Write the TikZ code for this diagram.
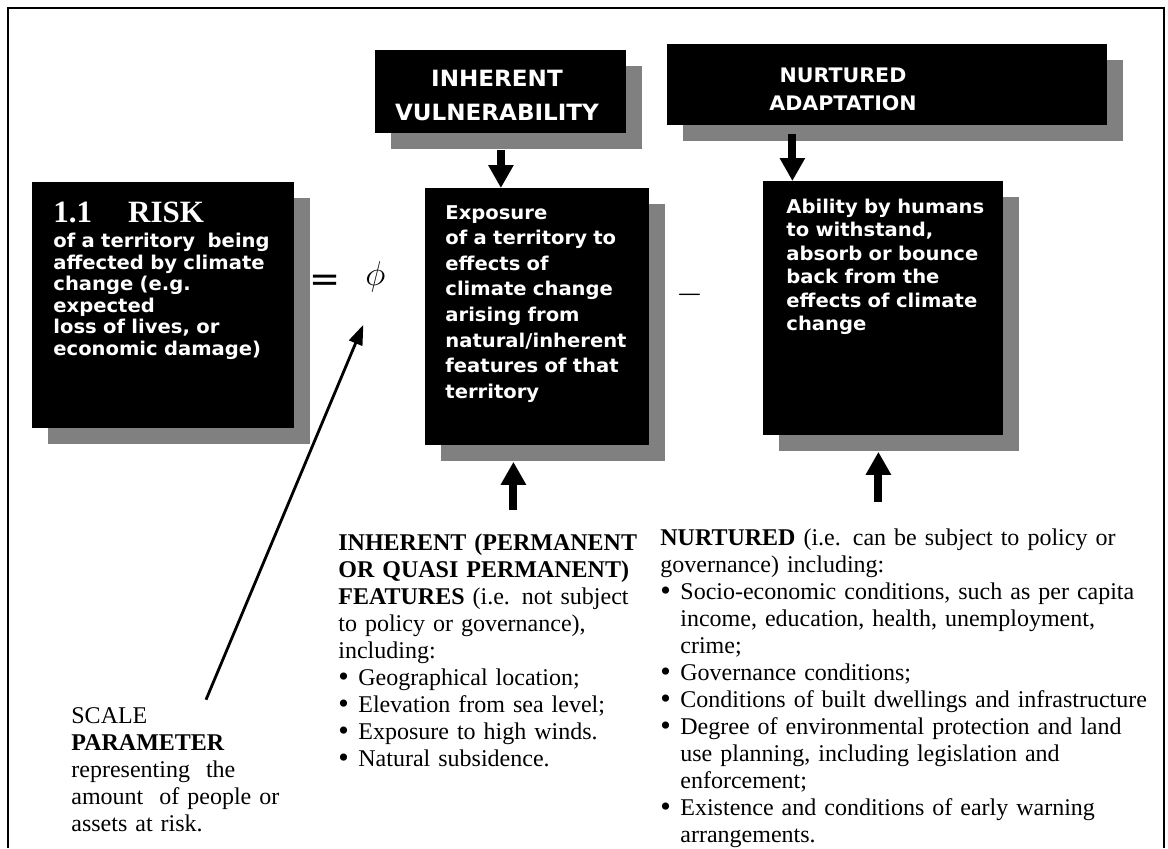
\documentclass[tikz,border=0pt]{standalone}
\usepackage{fontspec}
\setmainfont{Liberation Serif}
\newfontfamily\boxfont[FakeStretch=1.03]{DejaVu Sans}
\usepackage{tikz}
\usetikzlibrary{arrows.meta,positioning,calc,shadows}

\newcommand{\bul}{\makebox[10pt][l]{\raisebox{-0.6pt}{\fontsize{15}{15}\selectfont\textbullet}}}
\newcommand{\bulpad}{\hspace*{10pt}}

\begin{document}
\begin{tikzpicture}[
    x=0.5pt, y=-0.5pt,
    box/.style={fill=black, rectangle, anchor=north west, inner sep=0pt,
        drop shadow={shadow xshift=8pt, shadow yshift=-8pt, fill=black!50, opacity=1}},
    boxtext/.style={text=white, anchor=base west, inner sep=0pt, align=left, text width=130pt,
        font=\boxfont\bfseries\fontsize{9.5}{10.75}\selectfont},
    headtext/.style={text=white, inner sep=0pt, align=center, font=\boxfont\bfseries\fontsize{11.2}{17}\selectfont},
    bodytext/.style={anchor=base west, inner sep=0pt, align=left, font=\fontsize{12}{13.5}\selectfont},
    sign/.style={inner sep=0pt, font=\fontsize{18}{20}\selectfont},
    arrow/.style={line width=4pt, -{Triangle[width=12pt, length=11.5pt]}},
    thinarrow/.style={line width=1.4pt, -{Triangle[width=7pt, length=10pt]}},
]
    \useasboundingbox (0,0) rectangle (1168,848);
    \draw[line width=1pt] (8,848) -- (8,8) -- (1164,8) -- (1164,848);

    % Risk box on the left
    \node[box, minimum width=131pt, minimum height=123pt] (risk) at (32,182) {};
    \node[boxtext] (risk-t) at (53,222) {{\rmfamily\fontsize{15.5}{17}\selectfont 1.1\hspace{18pt}RISK}\\[2pt]of a territory~ being\\affected by climate\\change (e.g.\\expected\\loss of lives, or\\economic damage)};

    % Top headers
    \node[box, minimum width=125.5pt, minimum height=41.5pt] (ivuln) at (375,50) {};
    \node[headtext] (ivuln-t) at (497,95) {INHERENT\\VULNERABILITY};
    \node[box, minimum width=220pt, minimum height=40.5pt] (nadapt) at (667,44) {};
    \node[headtext, font=\boxfont\bfseries\fontsize{10}{14}\selectfont] (nadapt-t) at (843,89) {NURTURED\\ADAPTATION};

    % Exposure and ability
    \node[box, minimum width=112pt, minimum height=128.5pt] (expo) at (425,188) {};
    \node[boxtext, font=\boxfont\bfseries\fontsize{9.5}{12.8}\selectfont] (expo-t) at (445,219) {Exposure\\of a territory to\\effects of\\climate change\\arising from\\natural/inherent\\features of that\\territory};
    \node[box, minimum width=120pt, minimum height=127pt] (ability) at (763,181) {};
    \node[boxtext, font=\boxfont\bfseries\fontsize{9.5}{11.75}\selectfont] (ability-t) at (786,213) {Ability by humans\\to withstand,\\absorb or bounce\\back from the\\effects of climate\\change};

    % Equation signs
    \node[sign, font=\boxfont\fontsize{18}{20}\selectfont] (eq) at (325,283) {=};
    \node[sign, right=12pt of eq, yshift=3pt] (phi) {$\phi$};
    \node[sign] (minus) at (690,295) {$-$};

    % Lists below
    \node[bodytext, text width=160pt] (feat) at (338,550) {\textbf{INHERENT (PERMANENT}\\\textbf{OR QUASI PERMANENT)}\\\textbf{FEATURES} (i.e. not subject\\to policy or governance),\\including:\\\bul Geographical location;\\\bul Elevation from sea level;\\\bul Exposure to high winds.\\\bul Natural subsidence.};
    \node[bodytext, text width=260pt] (nurt) at (660,545) {\textbf{NURTURED} (i.e. can be subject to policy or\\governance) including:\\\bul Socio-economic conditions, such as per capita\\\bulpad income, education, health, unemployment,\\\bulpad crime;\\\bul Governance conditions;\\\bul Conditions of built dwellings and infrastructure\\\bul Degree of environmental protection and land\\\bulpad use planning, including legislation and\\\bulpad enforcement;\\\bul Existence and conditions of early warning\\\bulpad arrangements.};
    \node[bodytext, text width=110pt, font=\fontsize{12}{13.6}\selectfont] (scale) at (71,723) {SCALE\\\textbf{PARAMETER}\\representing~ the\\amount~ of people or\\assets at risk.};

    % Arrows
    \draw[arrow] ([yshift=-8pt]ivuln.south) -- (ivuln.south |- expo.north);
    \coordinate (ab-in) at ([xshift=-45.5pt]ability.north);
    \coordinate (na-out) at ([yshift=-4pt]nadapt.south);
    \draw[arrow] (na-out -| ab-in) -- (ab-in);
    \coordinate (ex-in) at ([xshift=-12pt,yshift=-8pt]expo.south);
    \coordinate (ft-out) at ([yshift=11.5pt]feat.north);
    \draw[arrow] (ft-out -| ex-in) -- (ex-in);
    \coordinate (ab-out) at ([xshift=-2.5pt,yshift=-8pt]ability.south);
    \coordinate (nt-out) at ([yshift=13pt]nurt.north);
    \draw[arrow] (nt-out -| ab-out) -- (ab-out);
    \draw[thinarrow] ([xshift=67.5pt,yshift=3.5pt]scale.north west) -- ([xshift=-6pt,yshift=-16pt]phi.south);

\end{tikzpicture}
\end{document}
